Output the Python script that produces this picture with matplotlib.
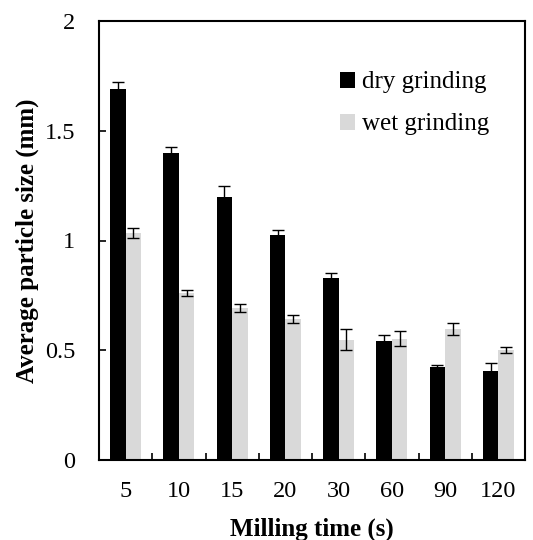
import numpy as np
import matplotlib
matplotlib.use("Agg")
import matplotlib.pyplot as plt

plt.rcParams['font.family'] = ['Liberation Serif', 'DejaVu Serif']

times = ['5', '10', '15', '20', '30', '60', '90', '120']
dry = [1.69, 1.40, 1.20, 1.024, 0.828, 0.540, 0.423, 0.406]
dry_err = [0.03, 0.025, 0.05, 0.025, 0.025, 0.03, 0.01, 0.035]
wet = [1.036, 0.761, 0.692, 0.642, 0.548, 0.553, 0.597, 0.502]
wet_err = [0.023, 0.015, 0.02, 0.019, 0.048, 0.033, 0.027, 0.015]

fig = plt.figure(figsize=(5.33, 5.40), dpi=100)
ax = fig.add_axes([99 / 533, 80 / 540, 426 / 533, 439 / 540])

x = np.arange(len(times))
w = 0.29
ekw = dict(ecolor='black', elinewidth=1.0, capsize=4.5, capthick=1.0)
ax.bar(x - w / 2, dry, w, color='black', yerr=dry_err, error_kw=ekw, label='dry grinding')
ax.bar(x + w / 2, wet, w, color='#d9d9d9', yerr=wet_err, error_kw=ekw, label='wet grinding')

ax.set_xlim(-0.5, len(times) - 0.5)
ax.set_ylim(0, 2)
ax.set_yticks([0, 0.5, 1, 1.5, 2])
ax.set_yticklabels(['0', '0.5', '1', '1.5', '2'])
ax.set_xticks(x)
ax.set_xticklabels(times)
ax.set_xticks(np.arange(0.5, len(times) - 0.5, 1), minor=True)

ax.tick_params(axis='x', which='major', length=0, pad=15, labelsize=17.5)
ax.tick_params(axis='x', which='minor', direction='in', length=5, width=1.2)
ax.tick_params(axis='y', direction='in', length=5, width=1.2, pad=17, labelsize=17.5)

for s in ax.spines.values():
    s.set_linewidth(1.5)

ax.set_xlabel('Milling time (s)', fontsize=18, fontweight='bold', labelpad=11)
ax.set_ylabel('Average particle size (mm)', fontsize=18, fontweight='bold', labelpad=4)

ax.legend(loc='upper left', bbox_to_anchor=(0.565, 0.885), frameon=False, fontsize=18,
          borderpad=0, borderaxespad=0, handlelength=0.6, handleheight=0.6,
          handletextpad=0.3, labelspacing=0.8)

fig.savefig('out.png', dpi=100)
